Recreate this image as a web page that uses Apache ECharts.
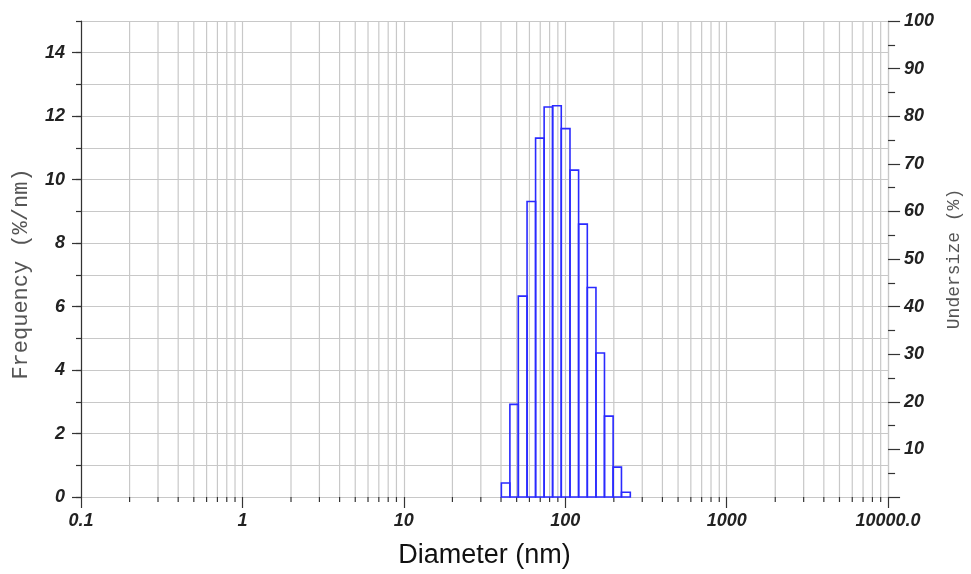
<!DOCTYPE html>
<html>
<head>
<meta charset="utf-8">
<script src="https://cdn.jsdelivr.net/npm/echarts@6/dist/echarts.min.js"></script>
<style>html,body{margin:0;padding:0;background:#fff;}#c{width:971px;height:574px;}</style>
</head>
<body>
<div id="c"></div>
<script>
// ---- data ----
const binEdges = [40.2, 45.4, 51.2, 58.0, 65.5, 74.0, 83.5, 94.5, 107, 121, 137, 155, 175, 198, 223, 253];
const frequency = [0.44, 2.92, 6.33, 9.31, 11.31, 12.29, 12.33, 11.61, 10.30, 8.60, 6.60, 4.54, 2.55, 0.94, 0.15];
const xTickLabels = ['0.1', '1', '10', '100', '1000', '10000.0'];
const leftTickValues = [0, 2, 4, 6, 8, 10, 12, 14];
const rightTickValues = [10, 20, 30, 40, 50, 60, 70, 80, 90, 100];
const minorGridValues = [0.2, 0.3, 0.4, 0.5, 0.6, 0.7, 0.8, 0.9,
  2, 3, 4, 5, 6, 7, 8, 9,
  20, 30, 40, 50, 60, 70, 80, 90,
  200, 300, 400, 500, 600, 700, 800, 900,
  2000, 3000, 4000, 5000, 6000, 7000, 8000, 9000];

const GRID = '#c8c8c8', DARK = '#333';
const labelFont = {fontFamily: 'Liberation Sans, Arial, sans-serif', fontStyle: 'italic', fontWeight: 'bold', fontSize: 18, color: '#222'};

const histData = frequency.map((f, i) => [binEdges[i], binEdges[i + 1], f]);

const chart = echarts.init(document.getElementById('c'), null, {renderer: 'canvas'});
chart.setOption({
  animation: false,
  backgroundColor: '#fff',
  grid: {left: 81, right: 82, top: 21, bottom: 75},
  xAxis: [{
    type: 'log', logBase: 10, min: 0.1, max: 10000,
    name: 'Diameter (nm)', nameLocation: 'middle', nameGap: 45,
    nameTextStyle: {fontFamily: 'Liberation Sans, Arial, sans-serif', fontSize: 27, color: '#111'},
    axisLine: {show: true, lineStyle: {color: GRID, width: 1}},
    axisTick: {show: true, length: 11, lineStyle: {color: DARK, width: 1.2}},
    axisLabel: Object.assign({margin: 15, formatter: v => xTickLabels[Math.round(Math.log10(v)) + 1]}, labelFont),
    splitLine: {show: true, lineStyle: {color: GRID, width: 1.2}}
  }],
  yAxis: [{
    type: 'value', position: 'left', min: 0, max: 15, interval: 1,
    name: 'Frequency (%/nm)', nameLocation: 'middle', nameRotate: 90, nameGap: 49,
    nameTextStyle: {fontFamily: 'Liberation Mono, Courier New, monospace', fontSize: 22, color: '#555', padding: [0, 30, 0, 0]},
    axisLine: {show: true, lineStyle: {color: DARK, width: 1.2}},
    axisTick: {show: true, length: 5, lineStyle: {color: DARK, width: 1.2}},
    axisLabel: {show: false},
    splitLine: {show: true, lineStyle: {color: GRID, width: 1.2}}
  }, {
    type: 'value', position: 'left', min: 0, max: 15, interval: 1,
    axisLine: {show: false},
    axisTick: {show: true, length: 9, customValues: leftTickValues, lineStyle: {color: DARK, width: 1.2}},
    axisLabel: Object.assign({margin: 16, customValues: leftTickValues}, labelFont),
    splitLine: {show: false}
  }, {
    type: 'value', position: 'right', min: 0, max: 100, interval: 10,
    name: 'Undersize (%)', nameLocation: 'middle', nameRotate: 90, nameGap: 55,
    nameTextStyle: {fontFamily: 'Liberation Mono, Courier New, monospace', fontSize: 18, color: '#555'},
    axisLine: {show: true, lineStyle: {color: GRID, width: 1.2}},
    axisTick: {show: true, length: 12, lineStyle: {color: DARK, width: 1.2}},
    minorTick: {show: true, splitNumber: 2, length: 7, lineStyle: {color: DARK, width: 1.2}},
    axisLabel: Object.assign({margin: 16, customValues: rightTickValues}, labelFont),
    splitLine: {show: false}
  }],
  series: [{
    type: 'custom', name: 'minorGrid', xAxisIndex: 0, yAxisIndex: 0, z: 1, silent: true, clip: false,
    data: minorGridValues.map(v => [v]),
    encode: {x: 0},
    renderItem: function (params, api) {
      const v = api.value(0);
      const pb = api.coord([v, 0]);
      const pt = api.coord([v, 15]);
      return {type: 'group', children: [
        {type: 'line', shape: {x1: pb[0], y1: pb[1], x2: pt[0], y2: pt[1]}, style: {stroke: GRID, lineWidth: 1.2}},
        {type: 'line', shape: {x1: pb[0], y1: pb[1], x2: pb[0], y2: pb[1] + 5}, style: {stroke: DARK, lineWidth: 1.2}}
      ]};
    }
  }, {
    type: 'custom', name: 'Frequency', xAxisIndex: 0, yAxisIndex: 0, z: 3, clip: false,
    data: histData,
    encode: {x: [0, 1], y: 2},
    renderItem: function (params, api) {
      const p0 = api.coord([api.value(0), api.value(2)]);
      const p1 = api.coord([api.value(1), 0]);
      return {type: 'rect', shape: {x: p0[0], y: p0[1], width: p1[0] - p0[0], height: p1[1] - p0[1]},
        style: {fill: null, stroke: '#2a2aff', lineWidth: 1.6}};
    }
  }]
});
</script>
</body>
</html>
